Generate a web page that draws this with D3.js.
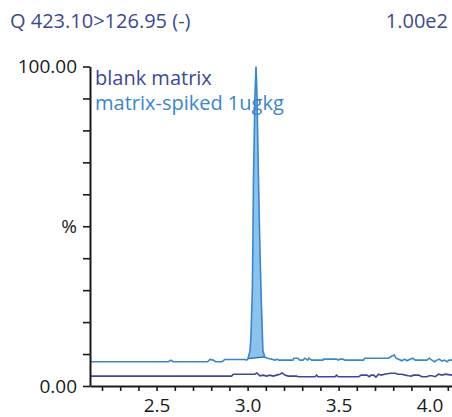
<!DOCTYPE html>
<html>
<head>
<meta charset="utf-8">
<script src="https://cdn.jsdelivr.net/npm/d3@7"></script>
<style>
  body { margin: 0; background: #fff; }
  svg { display: block; font-family: "Open Sans", sans-serif; }
</style>
</head>
<body>
<svg id="chart" width="452" height="417"></svg>
<script>
// chromatogram traces, time (min) and relative intensity (%)
const blankTime = [2.134, 2.912, 2.921, 3.040, 3.051, 3.068, 3.086, 3.104, 3.123, 3.141, 3.159, 3.177, 3.190, 3.205,
  3.223, 3.269, 3.278, 3.370, 3.379, 3.387, 3.480, 3.489, 3.498, 3.610, 3.624, 3.656, 3.668, 3.679, 3.692, 3.705,
  3.720, 3.734, 3.753, 3.784, 3.811, 3.826, 3.848, 3.866, 3.884, 3.899, 3.912, 3.940, 3.958, 3.985, 3.998, 4.013,
  4.031, 4.049, 4.068, 4.086, 4.123];
const blankValue = [3.1, 3.1, 3.7, 3.7, 4.1, 3.2, 3.4, 3.1, 3.4, 3.1, 3.4, 3.7, 4.1, 3.4,
  3.1, 3.1, 2.9, 2.9, 3.4, 2.9, 2.9, 3.4, 2.9, 2.9, 3.4, 3.4, 2.9, 3.4, 3.4, 2.8,
  3.7, 3.4, 3.7, 4.0, 4.0, 3.7, 3.7, 3.4, 3.2, 3.1, 3.4, 3.4, 2.9, 2.9, 3.2, 3.2,
  2.9, 3.7, 3.4, 3.7, 3.4];

const spikedTime = [2.134, 2.564, 2.579, 2.591, 2.780, 2.793, 2.811, 2.824, 2.860, 2.875, 2.985, 2.995,
  3.002, 3.013, 3.018, 3.026, 3.029, 3.032, 3.040, 3.046, 3.051, 3.060, 3.068, 3.076, 3.084, 3.095, 3.112,
  3.150, 3.161, 3.172, 3.249, 3.254, 3.276, 3.287, 3.304, 3.315, 3.330, 3.337, 3.352, 3.414, 3.417, 3.489,
  3.496, 3.507, 3.524, 3.535, 3.637, 3.643, 3.775, 3.793, 3.806, 3.815, 3.830, 3.848, 3.863, 3.875, 3.893,
  3.907, 3.921, 3.985, 3.998, 4.013, 4.027, 4.040, 4.053, 4.068, 4.082, 4.095, 4.108, 4.123];
const spikedValue = [7.6, 7.6, 8.1, 7.6, 7.6, 8.3, 8.1, 7.6, 7.6, 8.3, 8.3, 8.1,
  8.6, 11, 15, 30, 45, 64, 90, 100, 92, 64, 42, 25, 11, 9.0, 8.7,
  8.1, 8.4, 8.1, 8.1, 8.7, 8.7, 8.1, 8.1, 8.7, 8.1, 8.7, 8.1, 8.1, 8.4, 8.4,
  8.1, 8.4, 8.4, 8.1, 8.1, 8.7, 8.7, 9.4, 9.7, 8.7, 8.4, 7.9, 8.4, 7.9, 8.4,
  8.7, 8.1, 8.1, 8.7, 8.1, 7.6, 8.1, 8.4, 7.8, 8.1, 7.6, 8.1, 8.1];

// integrated peak window
const peakStart = 3.002;
const peakEnd = 3.095;
const peakBase = [8.6, 9.1];

const seriesNames = ['blank matrix', 'matrix-spiked 1ugkg'];
const seriesColors = ['#3b4a96', '#3a86cb'];
const yTicks = d3.range(0, 101, 10);
const xTicks = d3.range(22, 42).map(d => d / 10);
const xLabels = [2.5, 3.0, 3.5, 4.0];
const titleText = 'Q 423.10>126.95 (-)';
const scaleText = '1.00e2';

const svg = d3.select('#chart');

const x = d3.scaleLinear().domain([2.134, 4.123]).range([90, 452]);
const y = d3.scaleLinear().domain([0, 100]).range([386, 66.5]);

const blank = blankTime.map((t, i) => ({ t, v: blankValue[i] }));
const spiked = spikedTime.map((t, i) => ({ t, v: spikedValue[i] }));

const line = d3.line().x(d => x(d.t)).y(d => y(d.v));

// peak fill
const peakPts = spiked.filter(d => d.t >= peakStart && d.t <= peakEnd);
const poly = peakPts.concat([{ t: peakEnd, v: peakBase[1] }, { t: peakStart, v: peakBase[0] }]);
svg.append('path')
  .attr('d', line(poly) + 'Z')
  .attr('fill', '#8cc3ec')
  .attr('stroke', 'none');
svg.append('line')
  .attr('x1', x(peakStart)).attr('y1', y(peakBase[0]))
  .attr('x2', x(peakEnd)).attr('y2', y(peakBase[1]))
  .attr('stroke', '#2e62a8').attr('stroke-width', 1.3);

svg.append('path')
  .datum(blank)
  .attr('d', line)
  .attr('fill', 'none')
  .attr('stroke', seriesColors[0])
  .attr('stroke-width', 1.6);

svg.append('path')
  .datum(spiked)
  .attr('d', line)
  .attr('fill', 'none')
  .attr('stroke', seriesColors[1])
  .attr('stroke-width', 1.6);

// axes
const yAxis = d3.axisLeft(y)
  .tickValues(yTicks)
  .tickSize(7)
  .tickSizeOuter(0)
  .tickPadding(6)
  .tickFormat(d => d === 100 ? '100.00' : d === 0 ? '0.00' : d === 50 ? '%' : '');
const gy = svg.append('g').attr('transform', 'translate(90,0)').call(yAxis);

const xAxis = d3.axisBottom(x)
  .tickValues(xTicks)
  .tickSize(5)
  .tickSizeOuter(0)
  .tickPadding(10)
  .tickFormat(d => xLabels.some(l => Math.abs(l - d) < 1e-6) ? d3.format('.1f')(d) : '');
const gx = svg.append('g').attr('transform', 'translate(0,386)').call(xAxis);

[gx, gy].forEach(g => {
  g.select('.domain').attr('stroke', '#1a1a1a').attr('stroke-width', 2);
  g.selectAll('.tick line').attr('stroke', '#1a1a1a').attr('stroke-width', 1.6);
  g.selectAll('.tick text').attr('fill', '#1a1a1a').style('font-size', '19px')
    .style('font-family', '"Open Sans", sans-serif');
});
gx.selectAll('.tick text').attr('dy', '0.6em');

// title
svg.append('text')
  .attr('x', 10).attr('y', 28)
  .attr('fill', '#3c4a8c')
  .style('font-size', '20px')
  .text(titleText);
svg.append('text')
  .attr('x', 448).attr('y', 28)
  .attr('text-anchor', 'end')
  .attr('fill', '#3c4a8c')
  .style('font-size', '20px')
  .text(scaleText);

// legend
svg.selectAll('.legend')
  .data(seriesNames)
  .enter().append('text')
  .attr('class', 'legend')
  .attr('x', 95)
  .attr('y', (d, i) => 85 + i * 24.5)
  .attr('fill', (d, i) => seriesColors[i])
  .style('font-size', '20px')
  .text(d => d);
</script>
</body>
</html>
